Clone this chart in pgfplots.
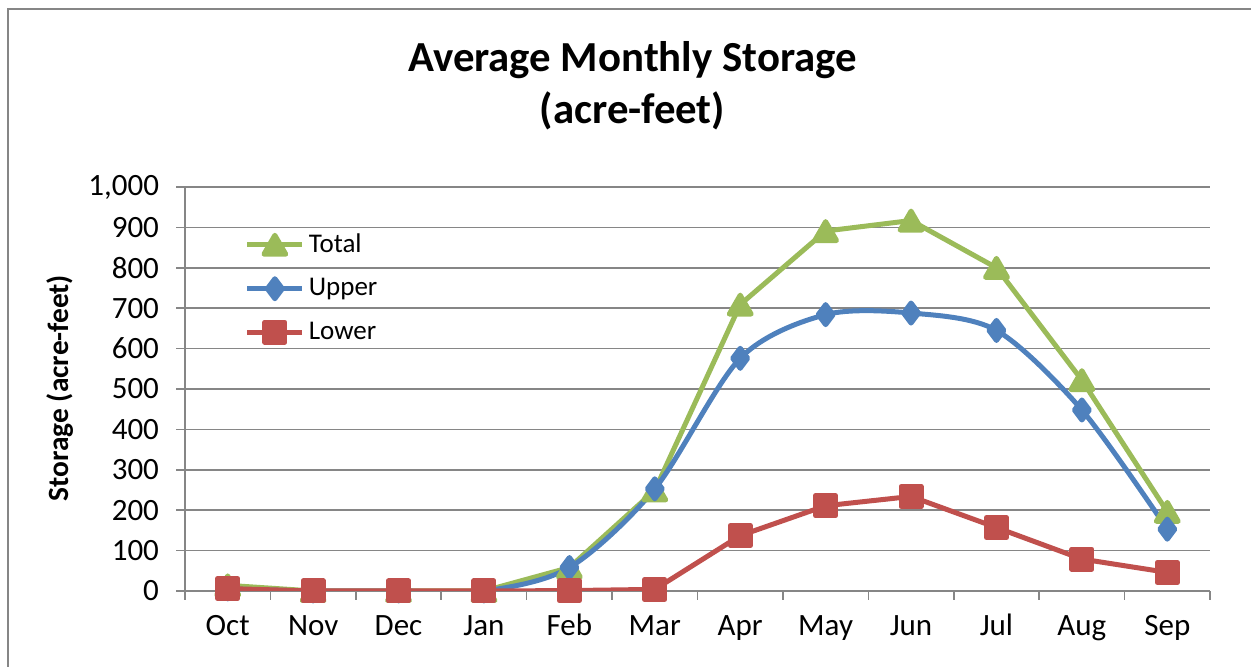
\documentclass[border=0pt]{standalone}
\usepackage{fontspec}
\setmainfont{Carlito}
\usepackage{pgfplots}
\pgfplotsset{compat=1.18}

\definecolor{totalgreen}{RGB}{155,187,89}
\definecolor{upperblue}{RGB}{79,129,189}
\definecolor{lowerred}{RGB}{192,80,77}
\definecolor{axgray}{RGB}{134,134,134}

\begin{document}
\begin{tikzpicture}
\clip (0,0) rectangle (625.5pt,333.5pt);
\draw[axgray, line width=1.2pt] (4pt,-20pt) rectangle (700pt,329pt);

\begin{axis}[
  at={(92.5pt,38pt)}, anchor=south west,
  scale only axis, width=512.5pt, height=202pt,
  xmin=-0.5, xmax=11.5, ymin=0, ymax=1000,
  axis lines=left, axis line style={axgray, line width=0.8pt, -},
  xtick={0,...,11},
  xticklabels={Oct,Nov,Dec,Jan,Feb,Mar,Apr,May,Jun,Jul,Aug,Sep},
  major x tick style={draw=none},
  minor xtick={-0.5,0.5,...,11.5},
  minor tick length=4.5pt,
  ytick={0,100,...,1000},
  major tick length=4.5pt,
  tick align=outside,
  tick style={axgray, line width=0.8pt},
  ymajorgrids, grid style={axgray, line width=0.8pt},
  tick label style={font=\fontsize{15.5}{18}\selectfont},
  xticklabel style={text height=11pt, text depth=3pt, yshift=-3pt},
  yticklabel style={xshift=-5pt},
  /pgf/number format/assume math mode=true,
  /pgf/number format/1000 sep={,},
  legend style={draw=none, fill=none, at={(0.058,0.895)}, anchor=north west,
    font=\fontsize{13.5}{16}\selectfont, row sep=7.5pt, inner sep=0pt},
  legend cell align=left,
  legend image code/.code={\draw[mark repeat=2,mark phase=2] plot coordinates {(0pt,0pt) (13.75pt,0pt) (27.5pt,0pt)};},
  every axis plot/.append style={line width=2.5pt, line join=round},
]
\addplot[totalgreen, mark=triangle*, mark size=6.3pt, mark options={solid, yshift=-1.6pt}] coordinates {
(0,14) (1,0) (2,0) (3,0) (4,58) (5,249) (6,709) (7,891) (8,917) (9,800) (10,522) (11,196)};
\addlegendentry{Total}
\addplot[upperblue, smooth, mark=diamond*, mark size=5pt] coordinates {
(0,5) (1,0) (2,0) (3,0) (4,58) (5,253) (6,576) (7,684) (8,688) (9,645) (10,448) (11,153)};
\addlegendentry{Upper}
\addplot[lowerred, mark=square*, mark size=5pt] coordinates {
(0,6) (1,0) (2,0) (3,0) (4,1) (5,4) (6,137) (7,211) (8,234) (9,157) (10,79) (11,46)};
\addlegendentry{Lower}
\end{axis}

\node[font=\fontsize{21.4}{25}\selectfont\bfseries] at (316.25pt,303.5pt) {Average Monthly Storage};
\node[font=\fontsize{21.4}{25}\selectfont\bfseries] at (316.25pt,278.3pt) {(acre-feet)};
\node[font=\fontsize{14.7}{17}\selectfont\bfseries, rotate=90] at (30pt,139.5pt) {Storage (acre-feet)};
\end{tikzpicture}
\end{document}
